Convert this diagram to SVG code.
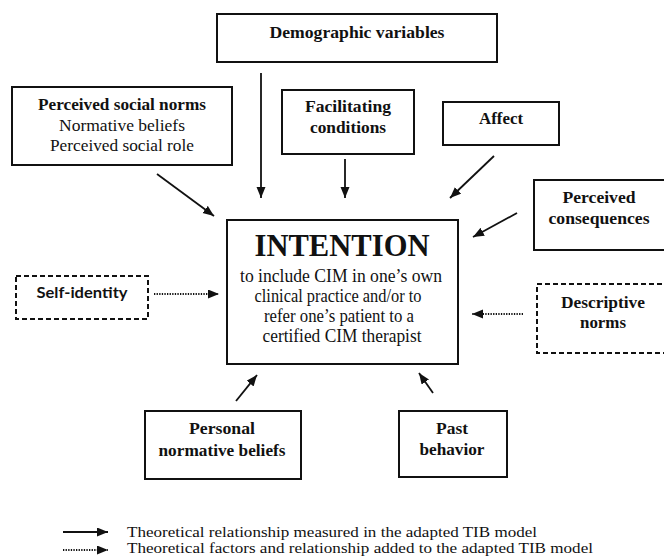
<svg xmlns="http://www.w3.org/2000/svg" width="664" height="557" viewBox="0 0 664 557">
<style>
  .box { fill: #fff; stroke: #111; stroke-width: 2; }
  .dbox { fill: #fff; stroke: #111; stroke-width: 2; stroke-dasharray: 5 3; }
  .lbl { font-family: "Liberation Serif", "Times New Roman", serif; font-weight: bold; font-size: 17px; fill: #111; text-anchor: middle; }
  .reg { font-family: "Liberation Serif", "Times New Roman", serif; font-size: 17px; fill: #111; text-anchor: middle; }
  .sans { font-family: Lato, "Open Sans", "Liberation Sans", sans-serif; font-weight: bold; font-size: 16px; fill: #111; text-anchor: middle; }
  .title { font-family: "Liberation Serif", "Times New Roman", serif; font-weight: bold; font-size: 32px; fill: #111; text-anchor: middle; }
  .body { font-family: "Liberation Serif", "Times New Roman", serif; font-size: 18px; fill: #111; text-anchor: middle; }
  .leg { font-family: "Liberation Serif", "Times New Roman", serif; font-size: 15px; fill: #111; }
  .solid { stroke: #111; stroke-width: 1.8; fill: none; marker-end: url(#ah); }
  .dot { stroke: #111; stroke-width: 2; fill: none; stroke-dasharray: 1.3 1.3; marker-end: url(#ah); }
</style>
<defs>
  <marker id="ah" markerUnits="userSpaceOnUse" markerWidth="12" markerHeight="10" refX="11" refY="4.5" orient="auto">
    <path d="M0,0 L11,4.5 L0,9 z" fill="#111"/>
  </marker>
</defs>
<rect width="664" height="557" fill="#fff"/>

<g id="demographic">
  <rect class="box" x="217" y="14" width="280" height="48"/>
  <text class="lbl" x="357" y="38" textLength="175" lengthAdjust="spacingAndGlyphs">Demographic variables</text>
</g>

<g id="perceived-social-norms">
  <rect class="box" x="12" y="87" width="220" height="78"/>
  <text class="lbl" x="122" y="110" textLength="168" lengthAdjust="spacingAndGlyphs">Perceived social norms</text>
  <text class="reg" x="122" y="131" textLength="126" lengthAdjust="spacingAndGlyphs">Normative beliefs</text>
  <text class="reg" x="122" y="151" textLength="144" lengthAdjust="spacingAndGlyphs">Perceived social role</text>
</g>

<g id="facilitating">
  <rect class="box" x="282" y="90" width="132" height="64"/>
  <text class="lbl" x="348" y="112" textLength="86" lengthAdjust="spacingAndGlyphs">Facilitating</text>
  <text class="lbl" x="348" y="133" textLength="76" lengthAdjust="spacingAndGlyphs">conditions</text>
</g>

<g id="affect">
  <rect class="box" x="443" y="102" width="116" height="43"/>
  <text class="lbl" x="501" y="124" textLength="44" lengthAdjust="spacingAndGlyphs">Affect</text>
</g>

<g id="perceived-consequences">
  <rect class="box" x="534" y="180" width="134" height="70"/>
  <text class="lbl" x="599" y="203" textLength="73" lengthAdjust="spacingAndGlyphs">Perceived</text>
  <text class="lbl" x="599" y="224" textLength="101" lengthAdjust="spacingAndGlyphs">consequences</text>
</g>

<g id="intention">
  <rect class="box" x="227" y="220" width="231" height="144"/>
  <text class="title" x="342" y="256" textLength="175" lengthAdjust="spacingAndGlyphs">INTENTION</text>
  <text class="body" x="341" y="282" textLength="202" lengthAdjust="spacingAndGlyphs">to  include CIM in one’s own</text>
  <text class="body" x="338" y="302" textLength="167" lengthAdjust="spacingAndGlyphs">clinical practice and/or to</text>
  <text class="body" x="339" y="322" textLength="150" lengthAdjust="spacingAndGlyphs">refer one’s patient to a</text>
  <text class="body" x="342" y="342" textLength="159" lengthAdjust="spacingAndGlyphs">certified CIM therapist</text>
</g>

<g id="self-identity">
  <rect class="dbox" x="16" y="276" width="132" height="43"/>
  <text class="sans" x="82" y="298" textLength="91" lengthAdjust="spacingAndGlyphs">Self-identity</text>
</g>

<g id="descriptive-norms">
  <rect class="dbox" x="537" y="284" width="131" height="69"/>
  <text class="lbl" x="603" y="308" textLength="84" lengthAdjust="spacingAndGlyphs">Descriptive</text>
  <text class="lbl" x="603" y="328" textLength="46" lengthAdjust="spacingAndGlyphs">norms</text>
</g>

<g id="personal-normative-beliefs">
  <rect class="box" x="145" y="411" width="156" height="68"/>
  <text class="lbl" x="222" y="434" textLength="66" lengthAdjust="spacingAndGlyphs">Personal</text>
  <text class="lbl" x="222" y="456" textLength="127" lengthAdjust="spacingAndGlyphs">normative beliefs</text>
</g>

<g id="past-behavior">
  <rect class="box" x="399" y="411" width="108" height="66"/>
  <text class="lbl" x="452" y="434" textLength="32" lengthAdjust="spacingAndGlyphs">Past</text>
  <text class="lbl" x="452" y="455" textLength="65" lengthAdjust="spacingAndGlyphs">behavior</text>
</g>

<g id="connectors">
  <line class="solid" x1="157" y1="174" x2="214" y2="216"/>
  <line class="solid" x1="261" y1="73" x2="261" y2="198"/>
  <line class="solid" x1="345" y1="159" x2="345" y2="198"/>
  <line class="solid" x1="494" y1="156" x2="450" y2="198"/>
  <line class="solid" x1="517" y1="213" x2="473" y2="237"/>
  <line class="dot" x1="154" y1="294" x2="219" y2="294"/>
  <line class="dot" x1="523" y1="314" x2="472" y2="314"/>
  <line class="solid" x1="236" y1="401" x2="257" y2="375"/>
  <line class="solid" x1="433" y1="393" x2="419" y2="373"/>
</g>

<g id="legend">
  <line class="solid" x1="63" y1="532" x2="108" y2="532"/>
  <text class="leg" x="127" y="537" textLength="410" lengthAdjust="spacingAndGlyphs">Theoretical relationship measured in the adapted TIB model</text>
  <line class="dot" x1="63" y1="550" x2="108" y2="550"/>
  <text class="leg" x="127" y="553" textLength="466" lengthAdjust="spacingAndGlyphs">Theoretical factors and relationship added to the adapted TIB model</text>
</g>
</svg>
